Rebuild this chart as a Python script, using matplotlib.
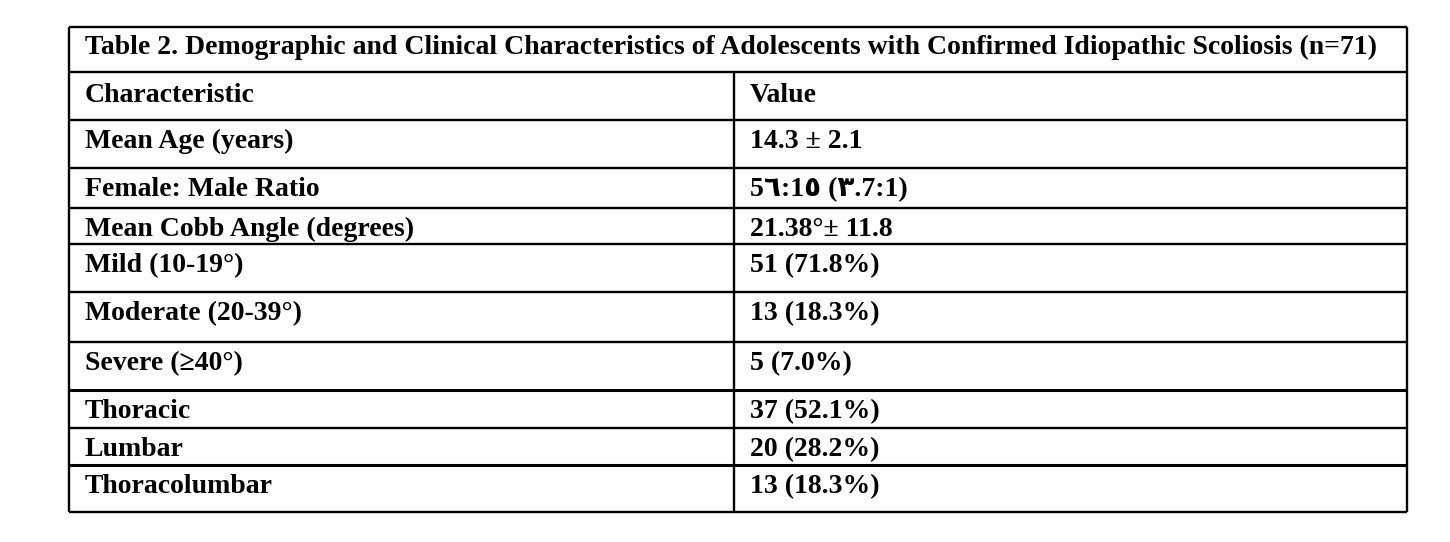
import matplotlib.pyplot as plt

plt.rcParams["font.family"] = ["Liberation Serif", "DejaVu Sans"]
plt.rcParams["font.weight"] = "bold"

title = "Table 2. Demographic and Clinical Characteristics of Adolescents with Confirmed Idiopathic Scoliosis (n=71)"
header = ["Characteristic", "Value"]
characteristics = [
    "Mean Age (years)",
    "Female: Male Ratio",
    "Mean Cobb Angle (degrees)",
    "Mild (10-19°)",
    "Moderate (20-39°)",
    "Severe (≥40°)",
    "Thoracic",
    "Lumbar",
    "Thoracolumbar",
]
values = [
    "14.3 ± 2.1",
    "5\u0666:1\u0665 (\u0663.7:1)",
    "21.38°± 11.8",
    "51 (71.8%)",
    "13 (18.3%)",
    "5 (7.0%)",
    "37 (52.1%)",
    "20 (28.2%)",
    "13 (18.3%)",
]

# layout in pixels (table box, row edges, column divider)
left, right, mid = 69, 1407, 734
row_edges = [27, 72, 120, 168, 208, 244, 292, 342, 390, 428, 465, 512]
thick = [390, 465]

fig = plt.figure(figsize=(14.5, 5.42), dpi=100)
ax = fig.add_axes([0, 0, 1, 1])
ax.set_xlim(0, 1450)
ax.set_ylim(542, 0)
ax.axis("off")

for y in row_edges:
    lw = 2.2 if y in thick else 1.7
    ax.hlines(y, left, right, color="black", lw=lw)
ax.vlines([left, right], row_edges[0], row_edges[-1], color="black", lw=1.7)
ax.vlines(mid, row_edges[1], row_edges[-1], color="black", lw=1.7)

fs = 20
pad = 28
ax.text(left + 16, row_edges[0] + 27, title, fontsize=fs, va="baseline")
ax.text(left + 16, row_edges[1] + pad + 2, header[0], fontsize=fs, va="baseline")
ax.text(mid + 16, row_edges[1] + pad + 2, header[1], fontsize=fs, va="baseline")
for i, (c, v) in enumerate(zip(characteristics, values)):
    top = row_edges[i + 2]
    ax.text(left + 16, top + pad, c, fontsize=fs, va="baseline")
    ax.text(mid + 16, top + pad, v, fontsize=fs, va="baseline")

fig.savefig("out.png", dpi=100, facecolor="white")
